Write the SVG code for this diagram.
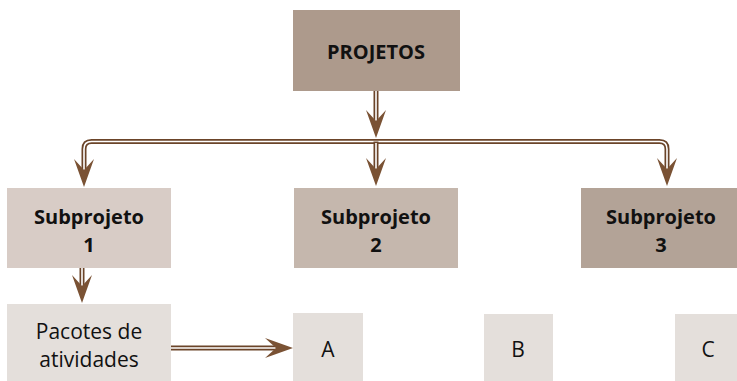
<svg xmlns="http://www.w3.org/2000/svg" width="737" height="381" viewBox="0 0 737 381">
<defs>
<style>
.outer{fill:none;stroke:#6b4429;stroke-width:5}
.inner{fill:none;stroke:#ffffff;stroke-width:1.6}
.ah{fill:#7a5234}
.b{font-family:"Open Sans","Noto Sans","Liberation Sans",sans-serif;font-weight:bold;fill:#111;text-anchor:middle;font-size:20px}
.r{font-family:"Open Sans","Noto Sans","Liberation Sans",sans-serif;fill:#111;text-anchor:middle;font-size:21px}
</style>
<path id="ah" d="M0,0 L-10,-28 L0,-17 L10,-28 Z"/>
</defs>
<g id="connectors">
<path class="outer" d="M376,91 V124"/><path class="inner" d="M376,91 V124"/>
<path class="outer" d="M84,172 V149 Q84,141.5 91.5,141.5 H659.5 Q667,141.5 667,149 V172"/>
<path class="inner" d="M84,172 V149 Q84,141.5 91.5,141.5 H659.5 Q667,141.5 667,149 V172"/>
<path class="outer" d="M376,141.5 V172"/><path class="inner" d="M376,143 V172"/>
<path class="outer" d="M82,268 V290"/><path class="inner" d="M82,268 V290"/>
<path class="outer" d="M171,348 H280"/><path class="inner" d="M171,348 H280"/>
<use href="#ah" class="ah" transform="translate(376,138)"/>
<use href="#ah" class="ah" transform="translate(84,187)"/>
<use href="#ah" class="ah" transform="translate(376,186)"/>
<use href="#ah" class="ah" transform="translate(667,186)"/>
<use href="#ah" class="ah" transform="translate(82,303)"/>
<use href="#ah" class="ah" transform="translate(293,348) rotate(-90)"/>
</g>
<g id="projetos"><rect x="293" y="10" width="167" height="81" fill="#ad9a8c"/><text class="b" x="376" y="59">PROJETOS</text></g>
<g id="sub1"><rect x="7" y="188" width="164" height="80" fill="#d8ccc6"/><text class="b" x="89" y="224">Subprojeto</text><text class="b" x="89" y="252">1</text></g>
<g id="sub2"><rect x="294" y="188" width="164" height="80" fill="#c5b7ad"/><text class="b" x="376" y="224">Subprojeto</text><text class="b" x="376" y="252">2</text></g>
<g id="sub3"><rect x="581" y="188" width="156" height="80" fill="#b3a397"/><text class="b" x="661" y="224">Subprojeto</text><text class="b" x="661" y="252">3</text></g>
<g id="pacotes"><rect x="7" y="304" width="164" height="77" fill="#e4dfdb"/><text class="r" x="89" y="339">Pacotes de</text><text class="r" x="89" y="367">atividades</text></g>
<g id="a"><rect x="293" y="313" width="70" height="68" fill="#e4dfdb"/><text class="r" x="328" y="357">A</text></g>
<g id="bnode"><rect x="484" y="314" width="69" height="67" fill="#e4dfdb"/><text class="r" x="518" y="357">B</text></g>
<g id="c"><rect x="675" y="314" width="62" height="67" fill="#e4dfdb"/><text class="r" x="708" y="357">C</text></g>
</svg>
